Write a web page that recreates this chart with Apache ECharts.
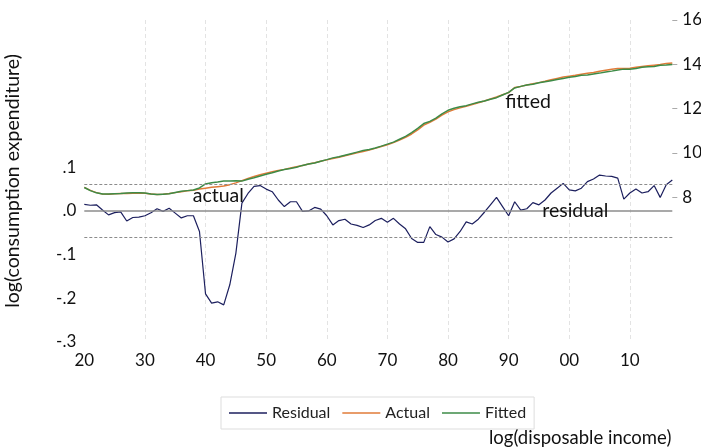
<!DOCTYPE html>
<html>
<head>
<meta charset="utf-8">
<script src="https://cdn.jsdelivr.net/npm/echarts@6/dist/echarts.min.js"></script>
<style>
html,body{margin:0;padding:0;background:#fff;}
#chart{width:701px;height:447px;}
</style>
</head>
<body>
<div id="chart"></div>
<script>
const years = [];
for (let y = 1920; y <= 2017; y++) years.push(y);

const residual = [
 0.015, 0.013, 0.014, 0.002, -0.009, -0.004, -0.002, -0.023, -0.015, -0.014,
 -0.011, -0.004, 0.005, -0.001, 0.006, -0.005, -0.016, -0.011, -0.011, -0.047,
 -0.190, -0.211, -0.208, -0.215, -0.169, -0.097, 0.018, 0.040, 0.056, 0.058,
 0.050, 0.044, 0.025, 0.010, 0.021, 0.021, -0.001, 0.000, 0.008, 0.004,
 -0.011, -0.032, -0.022, -0.019, -0.030, -0.033, -0.038, -0.032, -0.022, -0.017,
 -0.026, -0.017, -0.030, -0.041, -0.063, -0.072, -0.072, -0.036, -0.054, -0.060,
 -0.071, -0.064, -0.047, -0.025, -0.030, -0.019, -0.003, 0.014, 0.031, 0.010,
 -0.011, 0.021, 0.002, 0.005, 0.019, 0.014, 0.025, 0.041, 0.052, 0.063,
 0.048, 0.046, 0.052, 0.067, 0.073, 0.082, 0.080, 0.079, 0.075, 0.027,
 0.041, 0.050, 0.041, 0.044, 0.058, 0.031, 0.060, 0.071
];

const actual = [
 8.44, 8.30, 8.20, 8.14, 8.13, 8.15, 8.16, 8.16, 8.17, 8.18,
 8.17, 8.14, 8.11, 8.13, 8.16, 8.20, 8.24, 8.28, 8.31, 8.36,
 8.40, 8.44, 8.47, 8.50, 8.56, 8.64, 8.74, 8.84, 8.93, 9.01,
 9.08, 9.14, 9.20, 9.25, 9.31, 9.37, 9.43, 9.49, 9.55, 9.62,
 9.68, 9.74, 9.80, 9.87, 9.93, 10.00, 10.06, 10.12, 10.20, 10.28,
 10.36, 10.46, 10.58, 10.70, 10.85, 11.03, 11.25, 11.38, 11.52, 11.70,
 11.85, 11.95, 12.03, 12.10, 12.18, 12.26, 12.34, 12.43, 12.52, 12.62,
 12.72, 12.95, 13.00, 13.06, 13.12, 13.17, 13.23, 13.30, 13.36, 13.42,
 13.46, 13.50, 13.55, 13.59, 13.63, 13.68, 13.73, 13.77, 13.81, 13.81,
 13.82, 13.86, 13.90, 13.93, 13.96, 13.99, 14.03, 14.06
];

const fitted = [
 8.43, 8.29, 8.19, 8.14, 8.14, 8.15, 8.16, 8.18, 8.19, 8.19,
 8.18, 8.14, 8.11, 8.13, 8.15, 8.21, 8.26, 8.29, 8.32, 8.41,
 8.59, 8.65, 8.68, 8.72, 8.73, 8.74, 8.72, 8.80, 8.87, 8.95,
 9.03, 9.10, 9.18, 9.24, 9.29, 9.35, 9.43, 9.49, 9.54, 9.62,
 9.69, 9.77, 9.82, 9.89, 9.96, 10.03, 10.10, 10.15, 10.22, 10.30,
 10.39, 10.48, 10.61, 10.74, 10.91, 11.10, 11.32, 11.42, 11.57, 11.76,
 11.92, 12.01, 12.08, 12.13, 12.21, 12.28, 12.34, 12.42, 12.49, 12.61,
 12.73, 12.93, 13.00, 13.06, 13.10, 13.16, 13.21, 13.26, 13.31, 13.36,
 13.41, 13.45, 13.50, 13.52, 13.56, 13.60, 13.65, 13.69, 13.74, 13.78,
 13.78, 13.81, 13.86, 13.89, 13.90, 13.96, 13.97, 13.99
];

const xLabelValues = [1920, 1930, 1940, 1950, 1960, 1970, 1980, 1990, 2000, 2010];
const xGridValues = [1930, 1940, 1950, 1960, 1970, 1980, 1990, 2000, 2010];
const leftTicks = [-0.3, -0.2, -0.1, 0, 0.1];
const rightTicks = [8, 10, 12, 14, 16];
const seBand = 0.0595;

const annotations = [
  { name: 'actual', coord: [1942.1, 0.034] },
  { name: 'fitted', coord: [1993.2, 0.25] },
  { name: 'residual', coord: [2001, 0.0] }
];

const FONT = 'Lato';
const pair = (xs, ys) => xs.map((x, i) => [x, ys[i]]);

const chart = echarts.init(document.getElementById('chart'), null, { renderer: 'canvas' });
chart.setOption({
  animation: false,
  backgroundColor: '#ffffff',
  textStyle: { fontFamily: FONT },
  title: {
    text: 'log(disposable income)',
    left: 484, top: 424,
    textStyle: { fontFamily: FONT, fontSize: 18.5, fontWeight: 'normal', color: '#111' }
  },
  legend: {
    left: 221, top: 397,
    padding: [8, 8],
    borderColor: '#dddddd', borderWidth: 1,
    icon: 'rect',
    itemWidth: 38, itemHeight: 1.5, itemGap: 12,
    textStyle: { fontFamily: FONT, fontSize: 16, color: '#222' },
    data: ['Residual', 'Actual', 'Fitted']
  },
  grid: { left: 84.3, right: 28.7, top: 20, bottom: 105, containLabel: false, outerBoundsMode: 'none' },
  xAxis: {
    type: 'value', min: 1920, max: 2017,
    axisLine: { show: false },
    axisTick: { show: false, customValues: xGridValues },
    splitLine: { show: true, lineStyle: { color: '#e3e3e3', type: [4, 3], width: 1 } },
    axisLabel: {
      customValues: xLabelValues,
      margin: 10,
      fontFamily: FONT, fontSize: 17, color: '#111',
      formatter: v => String(Math.round(v) % 100).padStart(2, '0')
    }
  },
  yAxis: [
    {
      type: 'value', min: -0.3, max: 0.437, position: 'left',
      name: 'log(consumption expenditure)',
      nameLocation: 'middle', nameGap: 62,
      nameTextStyle: { fontFamily: FONT, fontSize: 19.5, color: '#111' },
      axisLine: { show: false },
      axisTick: { show: false },
      splitLine: { show: false },
      axisLabel: {
        customValues: leftTicks,
        margin: 8,
        fontFamily: FONT, fontSize: 17, color: '#111',
        formatter: v => { const r = Math.round(v * 10); return r < 0 ? '-.' + (-r) : '.' + r; }
      }
    },
    {
      type: 'value', min: 1.45, max: 16, position: 'right',
      axisLine: { show: false },
      axisTick: { show: true, length: 5, customValues: rightTicks, lineStyle: { color: '#aaa' } },
      splitLine: { show: false },
      axisLabel: {
        customValues: rightTicks,
        margin: 10,
        fontFamily: FONT, fontSize: 17, color: '#111'
      }
    }
  ],
  series: [
    {
      name: 'Residual', type: 'line', yAxisIndex: 0,
      data: pair(years, residual),
      symbol: 'none', color: '#1c1f5e',
      lineStyle: { width: 1.2, color: '#1c1f5e' },
      z: 3,
      markLine: {
        silent: true, symbol: 'none', label: { show: false },
        data: [
          { yAxis: 0, lineStyle: { color: '#8c8c8c', type: 'solid', width: 1.6 } },
          { yAxis: seBand, lineStyle: { color: '#8c8c8c', type: [3, 2], width: 1 } },
          { yAxis: -seBand, lineStyle: { color: '#8c8c8c', type: [3, 2], width: 1 } }
        ]
      },
      markPoint: {
        symbol: 'circle', symbolSize: 0, silent: true,
        label: {
          show: true, position: 'inside',
          fontFamily: FONT, fontSize: 19.5, color: '#111',
          formatter: p => p.name
        },
        data: annotations.map(a => ({ name: a.name, coord: a.coord }))
      }
    },
    {
      name: 'Actual', type: 'line', yAxisIndex: 1,
      data: pair(years, actual),
      symbol: 'none', color: '#e07b39',
      lineStyle: { width: 1.5, color: '#e07b39' }
    },
    {
      name: 'Fitted', type: 'line', yAxisIndex: 1,
      data: pair(years, fitted),
      symbol: 'none', color: '#3d8b47',
      lineStyle: { width: 1.5, color: '#3d8b47' }
    }
  ]
});
</script>
</body>
</html>
